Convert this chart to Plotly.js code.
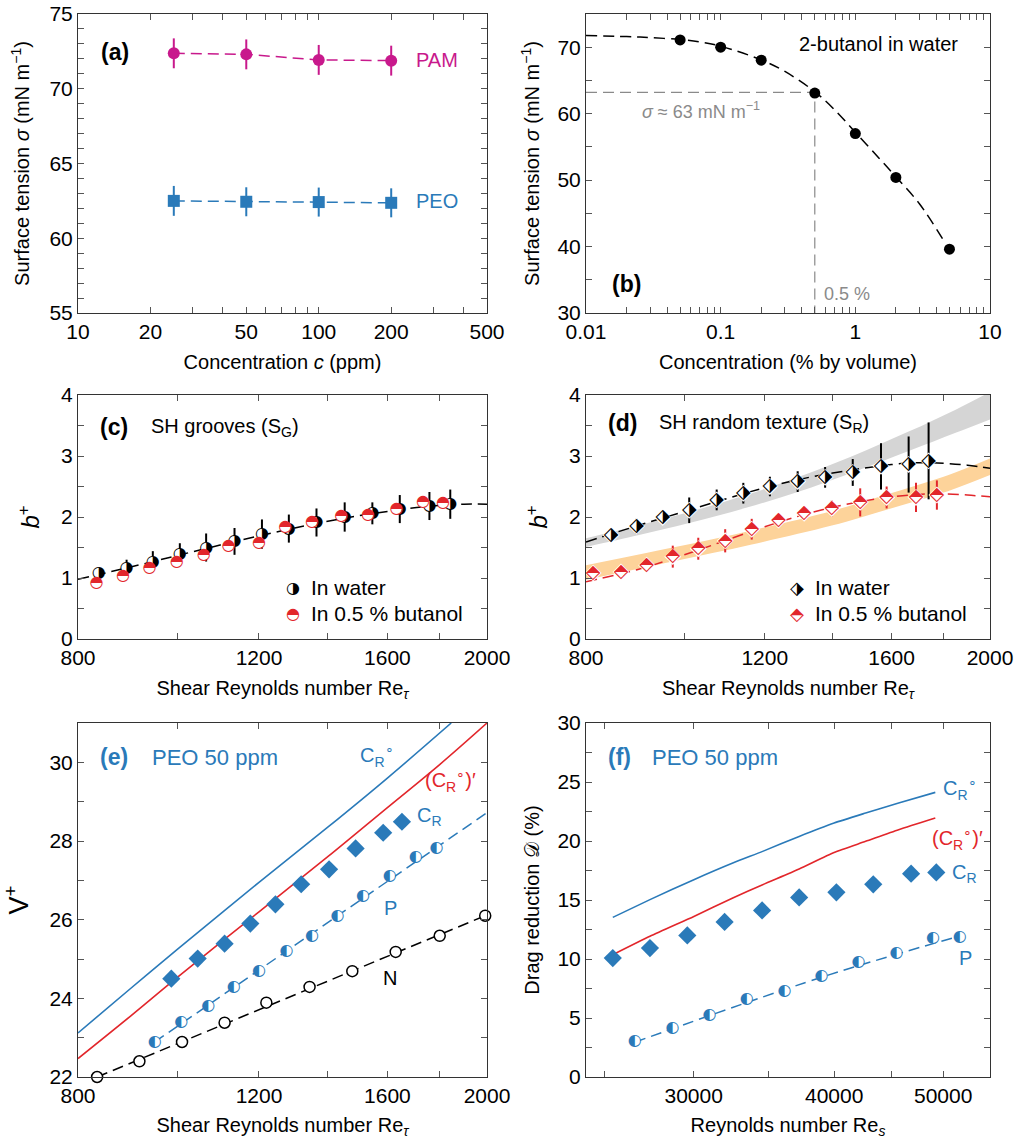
<!DOCTYPE html>
<html><head><meta charset="utf-8">
<script src="https://cdn.plot.ly/plotly-3.0.1.min.js"></script>
<style>html,body{margin:0;padding:0;background:#fff}#chart{width:1029px;height:1139px}</style>
</head><body><div id="chart"></div>
<script>
// ---------------- Panel (a): surface tension of polymer solutions
const concA = [25, 50, 100, 200];
const pamSigma = [72.37, 72.3, 71.93, 71.88];
const pamErr = [1.0, 1.0, 1.0, 1.0];
const peoSigma = [62.5, 62.44, 62.42, 62.37];
const peoErr = [1.0, 0.97, 0.97, 0.97];
const aXTickVals = [10,20,30,40,50,60,70,80,90,100,200,300,400,500];
const aXTickText = ['10','20','','','50','','','','','100','200','','','500'];
const aYTickVals = [55,56,57,58,59,60,61,62,63,64,65,66,67,68,69,70,71,72,73,74,75];
const aYTickText = ['55','','','','','60','','','','','65','','','','','70','','','','','75'];

// ---------------- Panel (b): 2-butanol in water
const butConc = [0.05, 0.1, 0.2, 0.5, 1, 2, 5];
const butSigma = [71.1, 70.0, 68.05, 63.1, 57.0, 50.4, 39.6];
const butFitConc = [0.01, 0.02, 0.03, 0.05, 0.07, 0.1, 0.2, 0.3, 0.5, 0.7, 1, 1.5, 2, 3, 4.5];
const butFitSigma = [71.75, 71.6, 71.45, 71.15, 70.8, 70.15, 68.1, 66.35, 63.3, 60.6, 57.2, 53.3, 50.5, 46.4, 41.0];
const refConc = [0.01, 0.5, 0.5];
const refSigma = [63.2, 63.2, 30];
const bXTickVals = [0.01,0.02,0.03,0.04,0.05,0.06,0.07,0.08,0.09,0.1,0.2,0.3,0.4,0.5,0.6,0.7,0.8,0.9,1,2,3,4,5,6,7,8,9,10];
const bXTickText = ['0.01','','','','','','','','','0.1','','','','','','','','','1','','','','','','','','','10'];
const bYTickVals = [30,35,40,45,50,55,60,65,70,75];
const bYTickText = ['30','','40','','50','','60','','70',''];

// ---------------- Panel (c): SH grooves
const cWaterRe = [838, 892, 946, 1005, 1066, 1136, 1208, 1283, 1365, 1454, 1547, 1645, 1758, 1842];
const cWaterB = [1.08, 1.17, 1.27, 1.39, 1.50, 1.60, 1.72, 1.81, 1.91, 2.00, 2.06, 2.13, 2.18, 2.21];
const cWaterErr = [0.07, 0.13, 0.17, 0.18, 0.23, 0.22, 0.24, 0.23, 0.23, 0.24, 0.18, 0.23, 0.23, 0.24];
const cButRe = [834, 885, 939, 998, 1060, 1121, 1200, 1273, 1351, 1443, 1532, 1633, 1733, 1812];
const cButB = [0.92, 1.03, 1.16, 1.27, 1.38, 1.52, 1.58, 1.83, 1.92, 2.02, 2.03, 2.13, 2.24, 2.23];
const cFitRe = [800, 900, 1000, 1100, 1200, 1300, 1400, 1500, 1600, 1700, 1800, 1900, 2000];
const cFitB = [0.98, 1.18, 1.37, 1.54, 1.69, 1.82, 1.93, 2.02, 2.09, 2.15, 2.19, 2.21, 2.21];

// ---------------- Panel (d): SH random texture
const dWaterRe = [847, 897, 952, 1011, 1076, 1143, 1214, 1293, 1376, 1465, 1562, 1663, 1740];
const dWaterB = [1.70, 1.85, 1.99, 2.11, 2.28, 2.39, 2.50, 2.58, 2.65, 2.73, 2.83, 2.86, 2.92];
const dWaterErr = [0.05, 0.12, 0.08, 0.21, 0.17, 0.17, 0.16, 0.17, 0.17, 0.22, 0.38, 0.46, 0.63];
const dButRe = [813, 866, 918, 974, 1032, 1097, 1165, 1238, 1312, 1397, 1490, 1582, 1691, 1773];
const dButB = [1.08, 1.10, 1.21, 1.35, 1.48, 1.61, 1.80, 1.95, 2.06, 2.14, 2.24, 2.32, 2.32, 2.36];
const dButErr = [0.04, 0.04, 0.04, 0.18, 0.18, 0.19, 0.17, 0.11, 0.11, 0.13, 0.23, 0.18, 0.24, 0.24];
const dFitRe = [800, 900, 1000, 1100, 1200, 1300, 1400, 1500, 1600, 1700, 1800, 1900, 2000];
const dWaterFitB = [1.59, 1.86, 2.09, 2.30, 2.48, 2.62, 2.72, 2.80, 2.86, 2.89, 2.88, 2.85, 2.80];
const dButFitB = [0.94, 1.14, 1.38, 1.62, 1.84, 2.02, 2.16, 2.26, 2.33, 2.37, 2.38, 2.36, 2.33];
const grayBandRe = [800, 900, 1011, 1150, 1293, 1465, 1663, 1850, 2000];
const grayBandLo = [1.51, 1.70, 1.90, 2.15, 2.41, 2.73, 3.08, 3.38, 3.60];
const grayBandHi = [1.65, 1.86, 2.08, 2.36, 2.65, 3.00, 3.40, 3.76, 4.05];
const orangeBandRe = [800, 974, 1165, 1397, 1582, 1800, 2000];
const orangeBandLo = [0.97, 1.27, 1.55, 1.86, 2.12, 2.40, 2.69];
const orangeBandHi = [1.21, 1.50, 1.78, 2.10, 2.37, 2.66, 2.96];
const reXTickVals = [800, 1000, 1200, 1400, 1600, 1800, 2000];
const reXTickText = ['800', '', '1200', '', '1600', '', '2000'];
const bpYTickVals = [0, 0.5, 1, 1.5, 2, 2.5, 3, 3.5, 4];
const bpYTickText = ['0', '', '1', '', '2', '', '3', '', '4'];

// ---------------- Panel (e): V+ vs Re_tau
const eNRe = [835, 918, 1010, 1111, 1220, 1344, 1479, 1630, 1799, 1992];
const eNV = [22.0, 22.40, 22.89, 23.38, 23.89, 24.29, 24.69, 25.18, 25.59, 26.10];
const eNFitRe = [835, 2000];
const eNFitV = [22.0, 26.12];
const ePRe = [950, 1008, 1071, 1134, 1200, 1276, 1351, 1431, 1515, 1608, 1705, 1786];
const ePV = [22.89, 23.40, 23.80, 24.29, 24.69, 25.20, 25.59, 26.10, 26.60, 27.11, 27.60, 27.81];
const ePFitRe = [950, 1400, 2000];
const ePFitV = [22.89, 25.92, 28.72];
const eCRRe = [986, 1046, 1111, 1177, 1245, 1319, 1404, 1490, 1585, 1653];
const eCRV = [24.50, 25.01, 25.39, 25.90, 26.39, 26.90, 27.28, 27.81, 28.21, 28.49];
const eCR0Re = [800, 900, 1000, 1200, 1400, 1600, 1846];
const eCR0V = [23.12, 24.25, 25.25, 26.95, 28.35, 29.6, 31.0];
const eCR0pRe = [800, 900, 1000, 1200, 1400, 1600, 1800, 2000];
const eCR0pV = [22.47, 23.55, 24.54, 26.2, 27.6, 28.85, 29.95, 31.0];
const eYTickVals = [22, 23, 24, 25, 26, 27, 28, 29, 30, 31];
const eYTickText = ['22', '', '24', '', '26', '', '28', '', '30', ''];

// ---------------- Panel (f): drag reduction vs Re_s
const fCRRe = [25420, 27430, 29610, 31960, 34510, 37230, 40180, 43330, 46820, 49300];
const fCRD = [10.08, 10.93, 12.0, 13.14, 14.12, 15.22, 15.65, 16.33, 17.23, 17.34];
const fPRe = [26590, 28720, 30990, 33440, 36120, 38970, 42030, 45430, 48970, 51710];
const fPD = [3.02, 4.15, 5.22, 6.61, 7.26, 8.53, 9.75, 10.51, 11.75, 11.83];
const fPFitRe = [26590, 38970, 51710];
const fPFitD = [2.95, 8.45, 11.95];
const fCR0Re = [25420, 27430, 30010, 32500, 34550, 37230, 39990, 42660, 45640, 49200];
const fCR0D = [13.53, 15.03, 16.72, 18.13, 19.12, 20.39, 21.52, 22.37, 23.22, 24.12];
const fCR0pRe = [25420, 27430, 30010, 32500, 34550, 37230, 39990, 42660, 45640, 49200];
const fCR0pD = [10.36, 11.92, 13.61, 15.17, 16.30, 17.63, 19.03, 19.97, 20.96, 21.95];
const fXTickVals = [25000, 30000, 35000, 40000, 45000, 50000, 55000];
const fXTickText = ['', '30000', '', '40000', '', '50000', ''];
const fYTickVals = [0, 2.5, 5, 7.5, 10, 12.5, 15, 17.5, 20, 22.5, 25, 27.5, 30];
const fYTickText = ['0', '', '5', '', '10', '', '15', '', '20', '', '25', '', '30'];

// ---------------- styling
const F = 'Liberation Sans, Arial, Helvetica, sans-serif';
const COL = {pam: '#c8198c', blue: '#2a7ab9', red: '#e2262b', black: '#000000', gray: '#8a8a8a', band: '#d5d5d5', orange: '#fdd39a'};
const DASH = '11px,6px';

function errY(arr, color) { return {type: 'data', array: arr, color: color, thickness: 2, width: 0}; }
function glyphTrace(x, y, err, glyph, color, xa, ya, sym, msize, fsize) {
  const t = {x: x, y: y, xaxis: xa, yaxis: ya, mode: 'markers+text', text: x.map(() => glyph),
    textposition: 'middle center', textfont: {family: 'DejaVu Sans', size: fsize, color: color},
    marker: {symbol: sym, size: msize, color: '#ffffff', line: {width: 0}}, cliponaxis: false, hoverinfo: 'skip'};
  if (err) t.error_y = errY(err, color);
  return t;
}

const traces = [];
// (a)
traces.push({x: concA, y: pamSigma, xaxis: 'x', yaxis: 'y', mode: 'lines+markers', line: {color: COL.pam, width: 1.5, dash: DASH},
  marker: {symbol: 'circle', size: 12, color: COL.pam}, error_y: errY(pamErr, COL.pam)});
traces.push({x: concA, y: peoSigma, xaxis: 'x', yaxis: 'y', mode: 'lines+markers', line: {color: COL.blue, width: 1.5, dash: DASH},
  marker: {symbol: 'square', size: 12, color: COL.blue}, error_y: errY(peoErr, COL.blue)});
// (b)
traces.push({x: refConc, y: refSigma, xaxis: 'x2', yaxis: 'y2', mode: 'lines', line: {color: COL.gray, width: 1.2, dash: DASH}});
traces.push({x: butFitConc, y: butFitSigma, xaxis: 'x2', yaxis: 'y2', mode: 'lines', line: {color: '#000', width: 1.5, dash: DASH, shape: 'spline'}});
traces.push({x: butConc, y: butSigma, xaxis: 'x2', yaxis: 'y2', mode: 'markers', marker: {symbol: 'circle', size: 11, color: '#000'}});
// (c)
traces.push({x: cFitRe, y: cFitB, xaxis: 'x3', yaxis: 'y3', mode: 'lines', line: {color: '#000', width: 1.5, dash: DASH, shape: 'spline'}});
traces.push(glyphTrace(cWaterRe, cWaterB, cWaterErr, '\u25D1', '#000', 'x3', 'y3', 'circle', 11, 16));
traces.push(glyphTrace(cButRe, cButB, null, '\u25D3', COL.red, 'x3', 'y3', 'circle', 11, 16));
// (d)
traces.push({x: grayBandRe, y: grayBandLo, xaxis: 'x4', yaxis: 'y4', mode: 'lines', line: {width: 0, shape: 'spline'}, hoverinfo: 'skip'});
traces.push({x: grayBandRe, y: grayBandHi, xaxis: 'x4', yaxis: 'y4', mode: 'lines', line: {width: 0, shape: 'spline'}, fill: 'tonexty', fillcolor: COL.band, hoverinfo: 'skip'});
traces.push({x: orangeBandRe, y: orangeBandLo, xaxis: 'x4', yaxis: 'y4', mode: 'lines', line: {width: 0, shape: 'spline'}, hoverinfo: 'skip'});
traces.push({x: orangeBandRe, y: orangeBandHi, xaxis: 'x4', yaxis: 'y4', mode: 'lines', line: {width: 0, shape: 'spline'}, fill: 'tonexty', fillcolor: COL.orange, hoverinfo: 'skip'});
traces.push({x: dFitRe, y: dWaterFitB, xaxis: 'x4', yaxis: 'y4', mode: 'lines', line: {color: '#000', width: 1.5, dash: DASH, shape: 'spline'}});
traces.push({x: dFitRe, y: dButFitB, xaxis: 'x4', yaxis: 'y4', mode: 'lines', line: {color: COL.red, width: 1.5, dash: DASH, shape: 'spline'}});
traces.push(glyphTrace(dWaterRe, dWaterB, dWaterErr, '\u2B17', '#000', 'x4', 'y4', 'diamond', 13, 19));
traces.push(glyphTrace(dButRe, dButB, dButErr, '\u2B18', COL.red, 'x4', 'y4', 'diamond', 13, 19));
// (e)
traces.push({x: eCR0Re, y: eCR0V, xaxis: 'x5', yaxis: 'y5', mode: 'lines', line: {color: COL.blue, width: 1.6, shape: 'spline'}});
traces.push({x: eCR0pRe, y: eCR0pV, xaxis: 'x5', yaxis: 'y5', mode: 'lines', line: {color: COL.red, width: 1.6, shape: 'spline'}});
traces.push({x: eNFitRe, y: eNFitV, xaxis: 'x5', yaxis: 'y5', mode: 'lines', line: {color: '#000', width: 1.5, dash: DASH}});
traces.push({x: eNRe, y: eNV, xaxis: 'x5', yaxis: 'y5', mode: 'markers', marker: {symbol: 'circle', size: 11, color: '#fff', line: {color: '#000', width: 1.5}}, cliponaxis: false});
traces.push({x: ePFitRe, y: ePFitV, xaxis: 'x5', yaxis: 'y5', mode: 'lines', line: {color: COL.blue, width: 1.5, dash: DASH}});
traces.push(glyphTrace(ePRe, ePV, null, '\u25D0', COL.blue, 'x5', 'y5', 'circle', 11, 16));
traces.push({x: eCRRe, y: eCRV, xaxis: 'x5', yaxis: 'y5', mode: 'markers', marker: {symbol: 'diamond', size: 14, color: COL.blue}});
// (f)
traces.push({x: fCR0Re, y: fCR0D, xaxis: 'x6', yaxis: 'y6', mode: 'lines', line: {color: COL.blue, width: 1.6, shape: 'spline', smoothing: 0.6}});
traces.push({x: fCR0pRe, y: fCR0pD, xaxis: 'x6', yaxis: 'y6', mode: 'lines', line: {color: COL.red, width: 1.6, shape: 'spline', smoothing: 0.6}});
traces.push({x: fPFitRe, y: fPFitD, xaxis: 'x6', yaxis: 'y6', mode: 'lines', line: {color: COL.blue, width: 1.5, dash: DASH, shape: 'spline'}});
traces.push(glyphTrace(fPRe, fPD, null, '\u25D0', COL.blue, 'x6', 'y6', 'circle', 11, 16));
traces.push({x: fCRRe, y: fCRD, xaxis: 'x6', yaxis: 'y6', mode: 'markers', marker: {symbol: 'diamond', size: 14, color: COL.blue}});

// ---------------- axes
const L = 78, R = 990, T = 14, B = 1077;
const px = v => (v - L) / (R - L);
const py = v => (B - v) / (B - T);
function ax(o) {
  return Object.assign({showline: true, linecolor: '#333', linewidth: 1, mirror: 'allticks', ticks: 'inside', ticklen: 6,
    tickwidth: 1, tickcolor: '#555', showgrid: false, zeroline: false, tickmode: 'array',
    tickfont: {family: F, size: 21, color: '#000'}, fixedrange: true}, o);
}
function ttl(text, standoff, size) { return {text: text, standoff: standoff, font: {family: F, size: size || 20, color: '#000'}}; }
const lg = Math.log10;
const colA = [px(78), px(487)], colB = [px(586), px(990)];
const rowA = [py(313), py(14)], rowC = [py(639), py(395)], rowE = [py(1077), py(723)];
const sigmaTitle = 'Surface tension <i>σ</i> (mN m<sup>−1</sup>)';
const reTauTitle = 'Shear Reynolds number Re<sub><i>τ</i></sub>';

const layout = {
  width: 1029, height: 1139, paper_bgcolor: '#fff', plot_bgcolor: '#fff', showlegend: false,
  margin: {l: L, r: 1029 - R, t: T, b: 1139 - B},
  font: {family: F, color: '#000'},
  xaxis: ax({type: 'log', range: [lg(10), lg(500)], domain: colA, anchor: 'y', tickvals: aXTickVals, ticktext: aXTickText, title: ttl('Concentration <i>c</i> (ppm)', 12)}),
  yaxis: ax({range: [55, 75], domain: rowA, anchor: 'x', tickvals: aYTickVals, ticktext: aYTickText, title: ttl(sigmaTitle, 14)}),
  xaxis2: ax({type: 'log', range: [-2, 1], domain: colB, anchor: 'y2', tickvals: bXTickVals, ticktext: bXTickText, title: ttl('Concentration (% by volume)', 12)}),
  yaxis2: ax({range: [30, 75], domain: rowA, anchor: 'x2', tickvals: bYTickVals, ticktext: bYTickText, title: ttl(sigmaTitle, 12)}),
  xaxis3: ax({type: 'log', range: [lg(800), lg(2000)], domain: colA, anchor: 'y3', tickvals: reXTickVals, ticktext: reXTickText, title: ttl(reTauTitle, 12)}),
  yaxis3: ax({range: [0, 4], domain: rowC, anchor: 'x3', tickvals: bpYTickVals, ticktext: bpYTickText, title: ttl('<i>b</i><sup>+</sup>', 14, 24)}),
  xaxis4: ax({type: 'log', range: [lg(800), lg(2000)], domain: colB, anchor: 'y4', tickvals: reXTickVals, ticktext: reXTickText, title: ttl(reTauTitle, 12)}),
  yaxis4: ax({range: [0, 4], domain: rowC, anchor: 'x4', tickvals: bpYTickVals, ticktext: bpYTickText, title: ttl('<i>b</i><sup>+</sup>', 14, 24)}),
  xaxis5: ax({type: 'log', range: [lg(800), lg(2000)], domain: colA, anchor: 'y5', tickvals: reXTickVals, ticktext: reXTickText, title: ttl(reTauTitle, 12)}),
  yaxis5: ax({range: [22, 31], domain: rowE, anchor: 'x5', tickvals: eYTickVals, ticktext: eYTickText, title: ttl('V<sup>+</sup>', 14, 27)}),
  xaxis6: ax({type: 'log', range: [lg(24063), lg(55030)], domain: colB, anchor: 'y6', tickvals: fXTickVals, ticktext: fXTickText, title: ttl('Reynolds number Re<sub><i>s</i></sub>', 12)}),
  yaxis6: ax({range: [0, 30], domain: rowE, anchor: 'x6', tickvals: fYTickVals, ticktext: fYTickText, title: ttl('Drag reduction 𝒟 (%)', 12)}),
  annotations: []
};

function note(x, y, text, size, color, anchor) {
  layout.annotations.push({xref: 'paper', yref: 'paper', x: px(x), y: py(y), text: text, showarrow: false,
    xanchor: anchor || 'left', yanchor: 'middle', font: {family: F, size: size, color: color || '#000'}});
}
// (a)
note(99, 52, '<b>(a)</b>', 23);
note(414, 60, 'PAM', 20, COL.pam);
note(414, 201, 'PEO', 20, COL.blue);
// (b)
note(797, 44, '2-butanol in water', 20);
note(640, 110, '<i>σ</i> ≈ 63 mN m<sup>−1</sup>', 18, COL.gray);
note(822, 294, '0.5 %', 18, COL.gray);
note(610, 284, '<b>(b)</b>', 23);
// (c)
note(98, 427, '<b>(c)</b>', 23);
note(149, 427, 'SH grooves (S<sub>G</sub>)', 20);
note(293, 587, '<span style="font-family:DejaVu Sans">\u25D1</span>', 16, '#000', 'center');
note(309, 587, 'In water', 21);
note(293, 613, '<span style="font-family:DejaVu Sans">\u25D3</span>', 16, COL.red, 'center');
note(309, 613, 'In 0.5 % butanol', 21);
// (d)
note(606, 423, '<b>(d)</b>', 23);
note(657, 423, 'SH random texture (S<sub>R</sub>)', 20);
note(797, 587, '<span style="font-family:DejaVu Sans">\u2B17</span>', 18, '#000', 'center');
note(813, 587, 'In water', 21);
note(797, 613, '<span style="font-family:DejaVu Sans">\u2B18</span>', 18, COL.red, 'center');
note(813, 613, 'In 0.5 % butanol', 21);
// (e)
note(98, 757, '<b>(e)</b>', 23, COL.blue);
note(150, 757, 'PEO 50 ppm', 22, COL.blue);
note(358, 755, 'C<sub>R</sub><sup>∘</sup>', 20, COL.blue);
note(423, 780, '(C<sub>R</sub><sup>∘</sup>)′', 20, COL.red);
note(415, 816, 'C<sub>R</sub>', 20, COL.blue);
note(382, 908, 'P', 20, COL.blue);
note(381, 978, 'N', 20, '#000');
// (f)
note(606, 757, '<b>(f)</b>', 23, COL.blue);
note(650, 757, 'PEO 50 ppm', 22, COL.blue);
note(941, 788, 'C<sub>R</sub><sup>∘</sup>', 20, COL.blue);
note(930, 838, '(C<sub>R</sub><sup>∘</sup>)′', 20, COL.red);
note(950, 874, 'C<sub>R</sub>', 20, COL.blue);
note(957, 958, 'P', 20, COL.blue);

Plotly.newPlot('chart', traces, layout, {staticPlot: true, displayModeBar: false});
</script>
</body></html>
